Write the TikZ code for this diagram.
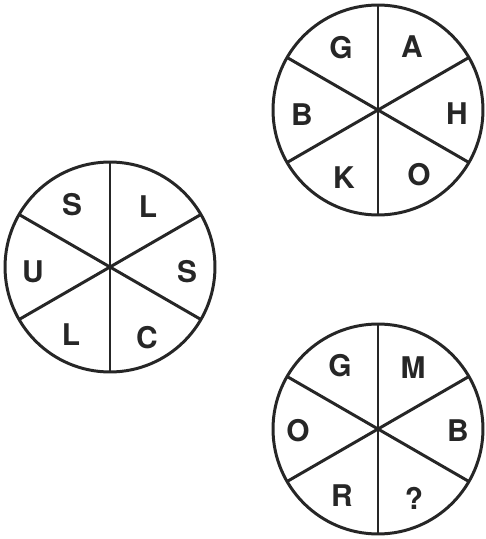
\documentclass[tikz,border=0pt]{standalone}
\usepackage{fontspec}
\setmainfont{TeX Gyre Heros}
\usepackage{tikz}
\usetikzlibrary{calc}
\definecolor{Ink}{HTML}{262626}
\tikzset{
  wheel/.style={circle, draw=Ink, line width=1.7pt, inner sep=0pt, outer sep=0pt,
                minimum size=4.2cm},
  spoke/.style={draw=Ink, line width=1.7pt},
  letter/.style={font=\fontsize{17}{17}\selectfont\bfseries, text=Ink, inner sep=0pt},
}

\begin{document}
\begin{tikzpicture}[x=0.02cm, y=0.02cm]
  \useasboundingbox (0,0) rectangle (486,539);
  % the three wheels
  \node[wheel] (top) at (378,429) {};
  \node[wheel] (left) at (110,272) {};
  \node[wheel] (bot) at (378,110) {};
  % spokes
  \draw[spoke] (top.north) -- (top.south);
  \draw[spoke] (top.30) -- (top.210);
  \draw[spoke] (top.150) -- (top.330);
  \draw[spoke] (left.north) -- (left.south);
  \draw[spoke] (left.30) -- (left.210);
  \draw[spoke] (left.150) -- (left.330);
  \draw[spoke] (bot.north) -- (bot.south);
  \draw[spoke] (bot.30) -- (bot.210);
  \draw[spoke] (bot.150) -- (bot.330);
  % top wheel letters
  \node[letter] (topG) at ($(top)+(-37,62)$) {G};
  \node[letter] (topA) at ($(top)+(34,63)$) {A};
  \node[letter] (topH) at ($(top)+(79,-4)$) {H};
  \node[letter] (topB) at ($(top)+(-76,-5)$) {B};
  \node[letter] (topK) at ($(top)+(-34,-68)$) {K};
  \node[letter] (topO) at ($(top)+(41,-65)$) {O};
  % left wheel letters
  \node[letter] (leftS) at ($(left)+(-38,62)$) {S};
  \node[letter] (leftL) at ($(left)+(38,60)$) {L};
  \node[letter] (leftSr) at ($(left)+(77,-5)$) {S};
  \node[letter] (leftU) at ($(left)+(-77,-5)$) {U};
  \node[letter] (leftLb) at ($(left)+(-39,-68)$) {L};
  \node[letter] (leftC) at ($(left)+(37,-71)$) {C};
  % bottom wheel letters
  \node[letter] (botG) at ($(bot)+(-38,63)$) {G};
  \node[letter] (botM) at ($(bot)+(35,61)$) {M};
  \node[letter] (botB) at ($(bot)+(80,-2)$) {B};
  \node[letter] (botO) at ($(bot)+(-80,-2)$) {O};
  \node[letter] (botR) at ($(bot)+(-36,-67)$) {R};
  \node[letter] (botQ) at ($(bot)+(36,-69)$) {?};
\end{tikzpicture}
\end{document}
